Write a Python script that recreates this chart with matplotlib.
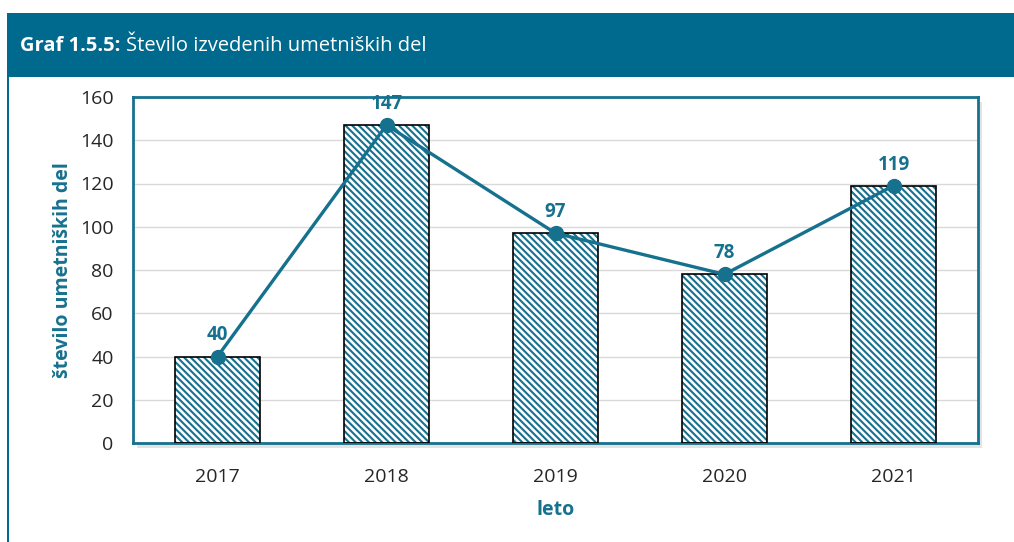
import matplotlib.pyplot as plt
import numpy as np
from matplotlib.patches import Rectangle

years = ['2017', '2018', '2019', '2020', '2021']
works = [40, 147, 97, 78, 119]
yticks = [0, 20, 40, 60, 80, 100, 120, 140, 160]

teal = '#16718f'
header = '#006a8e'

plt.rcParams['font.family'] = ['Open Sans', 'DejaVu Sans']
plt.rcParams['hatch.linewidth'] = 1.5
plt.rcParams['hatch.color'] = teal

fig = plt.figure(figsize=(10.14, 5.42), dpi=100)

# header band and left border
fig.patches.append(Rectangle((7/1014, 1-77/542), 1-7/1014, 64/542, transform=fig.transFigure,
                             facecolor=header, edgecolor='none', zorder=-1))
fig.patches.append(Rectangle((7/1014, 0), 2/1014, 1-77/542, transform=fig.transFigure,
                             facecolor=header, edgecolor='none', zorder=-1))
t1 = fig.text(20/1014, 1-46/542, 'Graf 1.5.5:', color='white', fontsize=14.5, fontweight='bold', va='center')
r = fig.canvas.get_renderer()
bb = t1.get_window_extent(renderer=r)
fig.text((bb.x1 + 6)/1014, 1-46/542, 'Število izvedenih umetniških del', color='white', fontsize=14.5, va='center')

# soft shadow behind plot frame
fig.patches.append(Rectangle((137/1014, 1-448/542), 845/1014, 346/542, transform=fig.transFigure,
                             facecolor='#c8c8c8', edgecolor='none', alpha=0.5, zorder=-1))

ax = fig.add_axes([133/1014, 1-443/542, 845/1014, 346/542])
ax.set_zorder(1)
x = np.arange(len(years))
ax.bar(x, works, width=0.5, color='white', hatch='\\\\\\\\\\', edgecolor=teal, linewidth=0, zorder=2)
ax.bar(x, works, width=0.5, fill=False, edgecolor='black', linewidth=1.2, zorder=3)
ax.plot(x, works, color=teal, linewidth=2.4, marker='o', markersize=10, zorder=4)
for xi, v in zip(x, works):
    ax.annotate(str(v), (xi, v), xytext=(0, 8), textcoords='offset points', ha='center',
                va='bottom', color=teal, fontsize=13.5, fontweight='bold', zorder=5)

ax.set_xlim(-0.5, len(years) - 0.5)
ax.set_ylim(0, 160)
ax.set_yticks(yticks)
ax.set_xticks(x)
ax.set_xticklabels(years)
ax.tick_params(axis='both', length=0, labelsize=14, colors='#262626', pad=14)
ax.tick_params(axis='x', pad=18)
ax.yaxis.grid(True, color='#d9d9d9', linewidth=1)
ax.set_axisbelow(True)
for s in ax.spines.values():
    s.set_color(teal)
    s.set_linewidth(2)
ax.set_ylabel('število umetniških del', color=teal, fontsize=14, fontweight='bold', labelpad=5)
ax.set_xlabel('leto', color=teal, fontsize=14, fontweight='bold', labelpad=10)

fig.savefig('out.png', dpi=100)
